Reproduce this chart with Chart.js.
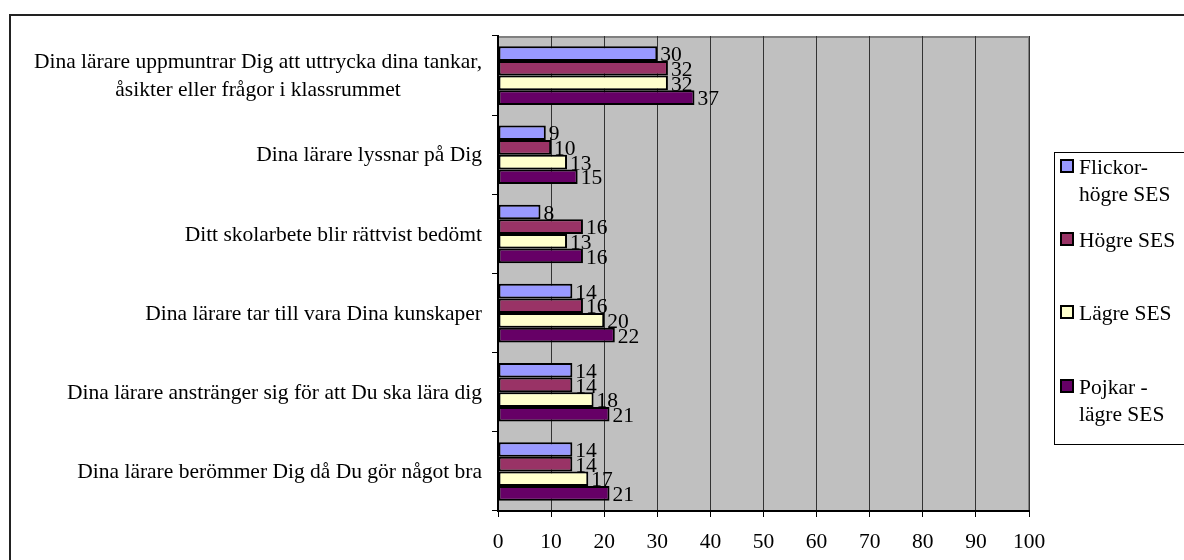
<!DOCTYPE html>
<html>
<head>
<meta charset="utf-8">
<script src="https://cdn.jsdelivr.net/npm/chart.js@4/dist/chart.umd.min.js"></script>
<style>
  html, body { margin: 0; padding: 0; background: #fff; }
  #wrap { width: 1184px; height: 560px; position: relative; }
</style>
</head>
<body>
<div id="wrap"><canvas id="chart"></canvas></div>
<script>
// Kategorier (första etiketten på två rader)
var categories = [
    ['Dina lärare uppmuntrar Dig att uttrycka dina tankar,', 'åsikter eller frågor i klassrummet'],
    'Dina lärare lyssnar på Dig',
    'Ditt skolarbete blir rättvist bedömt',
    'Dina lärare tar till vara Dina kunskaper',
    'Dina lärare anstränger sig för att Du ska lära dig',
    'Dina lärare berömmer Dig då Du gör något bra'
];
var seriesNames = [['Flickor-', 'högre SES'], ['Högre SES'], ['Lägre SES'], ['Pojkar -', 'lägre SES']];
var flickorHogre = [30, 9, 8, 14, 14, 14];
var hogreSes = [32, 10, 16, 16, 14, 14];
var lagreSes = [32, 13, 13, 20, 18, 17];
var pojkarLagre = [37, 15, 16, 22, 21, 21];
var xTicks = [0, 10, 20, 30, 40, 50, 60, 70, 80, 90, 100];
var colors = ['#9999FF', '#993366', '#FFFFCC', '#660066'];

var FONT = '21.5px "Liberation Serif", "Times New Roman", serif';

var frame = {
    id: 'frame',
    beforeDraw: function (chart) {
        var c = chart.ctx, a = chart.chartArea;
        c.save();
        c.fillStyle = '#fff';
        c.fillRect(0, 0, chart.width, chart.height);
        c.strokeStyle = '#222';
        c.lineWidth = 2;
        c.strokeRect(10, 15, 1300, 700);
        c.fillStyle = '#c0c0c0';
        c.fillRect(a.left, a.top, a.right - a.left, a.bottom - a.top);
        c.strokeStyle = '#808080';
        c.lineWidth = 2;
        c.beginPath();
        c.moveTo(a.left, a.top + 1);
        c.lineTo(a.right, a.top + 1);
        c.lineTo(a.right, a.bottom);
        c.stroke();
        c.restore();
    }
};

var catLabels = {
    id: 'catLabels',
    afterDraw: function (chart) {
        var c = chart.ctx, y = chart.scales.y;
        var right = chart.chartArea.left - 16;
        c.save();
        c.font = FONT;
        c.fillStyle = '#000';
        c.textAlign = 'center';
        c.textBaseline = 'middle';
        categories.forEach(function (lab, i) {
            var lines = Array.isArray(lab) ? lab : [lab];
            var w = Math.max.apply(null, lines.map(function (l) { return c.measureText(l).width; }));
            var cx = right - w / 2;
            var cy = y.getPixelForValue(i);
            var lh = 28;
            lines.forEach(function (l, k) {
                c.fillText(l, cx, cy + 1 + (k - (lines.length - 1) / 2) * lh);
            });
        });
        c.restore();
    }
};

var valueLabels = {
    id: 'valueLabels',
    afterDatasetsDraw: function (chart) {
        var c = chart.ctx;
        c.save();
        c.font = FONT;
        c.fillStyle = '#000';
        c.textAlign = 'left';
        c.textBaseline = 'middle';
        chart.data.datasets.forEach(function (ds, di) {
            chart.getDatasetMeta(di).data.forEach(function (el, i) {
                c.fillText(String(ds.data[i]), el.x + 3, el.y + 2);
            });
        });
        c.restore();
    }
};

var legendBox = {
    id: 'legendBox',
    afterDraw: function (chart) {
        var c = chart.ctx;
        var x0 = 1054, y0 = 152;
        var swatchY = [166, 239, 312, 386];
        c.save();
        c.strokeStyle = '#000';
        c.lineWidth = 1;
        c.strokeRect(x0 + 0.5, y0 + 0.5, 160, 292);
        c.font = FONT;
        c.textAlign = 'left';
        c.textBaseline = 'middle';
        seriesNames.forEach(function (lines, i) {
            var sy = swatchY[i];
            c.fillStyle = colors[i];
            c.fillRect(x0 + 7, sy - 6, 12, 12);
            c.strokeStyle = '#000';
            c.lineWidth = 2;
            c.strokeRect(x0 + 7, sy - 6, 12, 12);
            c.fillStyle = '#000';
            lines.forEach(function (l, k) {
                c.fillText(l, x0 + 25, sy + 2 + k * 27);
            });
        });
        c.restore();
    }
};

new Chart(document.getElementById('chart').getContext('2d'), {
    type: 'bar',
    data: {
        labels: categories,
        datasets: [
            { label: seriesNames[0].join(' '), data: flickorHogre, backgroundColor: colors[0] },
            { label: seriesNames[1].join(' '), data: hogreSes, backgroundColor: colors[1] },
            { label: seriesNames[2].join(' '), data: lagreSes, backgroundColor: colors[2] },
            { label: seriesNames[3].join(' '), data: pojkarLagre, backgroundColor: colors[3] }
        ].map(function (d) {
            d.borderColor = '#000'; d.borderWidth = 2; d.borderSkipped = false;
            d.categoryPercentage = 0.74; d.barPercentage = 1;
            return d;
        })
    },
    options: {
        indexAxis: 'y',
        responsive: true, maintainAspectRatio: false, animation: false,
        layout: { padding: { left: 0, top: 36, right: 155, bottom: 0 } },
        plugins: { legend: { display: false }, tooltip: { enabled: false } },
        scales: {
            x: {
                min: 0, max: 100,
                afterBuildTicks: function (s) { s.ticks = xTicks.map(function (v) { return { value: v }; }); },
                afterFit: function (s) { s.height = 49; },
                grid: { color: '#333', lineWidth: 1, tickLength: 6, tickColor: '#000' },
                border: { display: true, color: '#000', width: 2 },
                ticks: { color: '#000', font: { family: '"Liberation Serif", serif', size: 21.5 }, padding: 12, maxRotation: 0 }
            },
            y: {
                afterFit: function (s) { s.width = 498; },
                grid: { drawOnChartArea: false, offset: true, tickLength: 6, color: '#000' },
                border: { display: true, color: '#000', width: 2 },
                ticks: { display: false }
            }
        }
    },
    plugins: [frame, catLabels, valueLabels, legendBox]
});
</script>
</body>
</html>
